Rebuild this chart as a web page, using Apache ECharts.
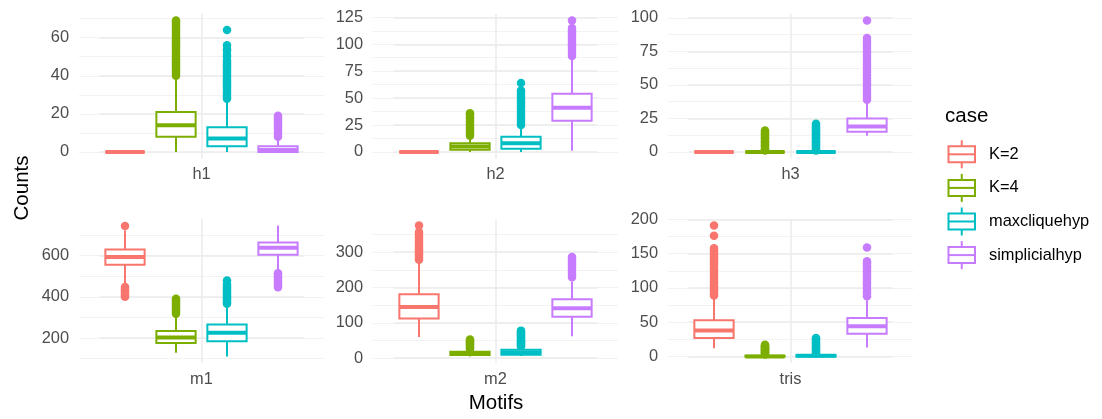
<!DOCTYPE html>
<html>
<head>
<meta charset="utf-8">
<script src="https://cdn.jsdelivr.net/npm/echarts@6/dist/echarts.min.js"></script>
<style>
  html, body { margin: 0; padding: 0; background: #ffffff; }
  #chart { width: 1102px; height: 419px; }
</style>
</head>
<body>
<div id="chart"></div>
<script>
// ---- data ---------------------------------------------------------------
const cases = ['K=2', 'K=4', 'maxcliquehyp', 'simplicialhyp'];
const motifs = ['h1', 'h2', 'h3', 'm1', 'm2', 'tris'];

// per case: [lower whisker, Q1, median, Q3, upper whisker]
const boxesH1 = [[0, 0, 0, 0, 0], [0, 8, 14, 21, 38], [0, 3, 7, 13, 27], [0, 0, 1, 3, 7]];
const boxesH2 = [[0, 0, 0, 0, 0], [0, 2, 5, 8, 14], [0, 3, 8, 14, 24], [1, 29, 41, 54, 88]];
const boxesH3 = [[0, 0, 0, 0, 0], [0, 0, 0, 0, 0], [0, 0, 0, 0, 0], [12, 15, 19, 25, 37]];
const boxesM1 = [[455, 555, 593, 629, 721], [129, 176, 203, 234, 310], [111, 185, 226, 266, 358], [527, 603, 637, 663, 745]];
const boxesM2 = [[60, 112, 145, 181, 269], [5, 9, 13, 18, 25], [6, 10, 16, 24, 32], [62, 117, 141, 167, 217]];
const boxesTris = [[12, 27, 38, 53, 84], [0, 0, 0, 1, 2], [0, 0, 1, 2, 3], [13, 33, 44, 56, 82]];

// outlying counts per case
const outH1 = [
  [],
  [40, 41, 42, 43, 44, 45, 46, 47, 48, 49, 50, 51, 52, 53, 54, 55, 56, 57, 58, 59, 60, 61, 62, 63, 64, 65, 66, 67, 68, 69],
  [28, 29, 30, 31, 32, 33, 34, 35, 36, 37, 38, 39, 40, 41, 42, 43, 44, 45, 46, 47, 48, 50, 51, 53, 54, 56, 64],
  [8, 9, 10, 11, 12, 13, 14, 15, 16, 17, 18, 19]
];
const outH2 = [
  [],
  [15, 17, 19, 21, 23, 25, 27, 29, 31, 33, 35, 36],
  [25, 27, 29, 31, 33, 35, 37, 39, 41, 43, 45, 47, 49, 51, 53, 55, 57, 64],
  [89, 91, 93, 95, 97, 99, 101, 103, 105, 107, 109, 111, 113, 115, 122]
];
const outH3 = [
  [],
  [1, 2, 3, 4, 5, 6, 7, 8, 9, 10, 11, 12, 13, 14, 15, 16],
  [1, 2, 3, 4, 5, 6, 7, 8, 9, 10, 11, 12, 13, 14, 15, 16, 17, 18, 19, 20, 21],
  [39, 41, 43, 45, 47, 49, 51, 53, 55, 57, 59, 61, 63, 65, 67, 69, 71, 73, 75, 77, 79, 81, 83, 85, 98]
];
const outM1 = [
  [400, 408, 416, 424, 432, 440, 447, 743],
  [318, 326, 334, 342, 350, 358, 366, 374, 382, 390],
  [366, 374, 382, 390, 398, 406, 414, 422, 430, 438, 446, 454, 462, 479],
  [446, 454, 462, 470, 478, 486, 494, 502, 510, 514]
];
const outM2 = [
  [278, 284, 290, 296, 302, 308, 314, 320, 326, 332, 338, 344, 350, 356, 375],
  [26, 29, 32, 35, 38, 41, 44, 47, 50, 53],
  [33, 36, 39, 42, 45, 48, 51, 54, 57, 60, 63, 66, 69, 72, 75, 78],
  [229, 235, 241, 247, 253, 259, 265, 271, 277, 283, 286]
];
const outTris = [
  [89, 92, 95, 98, 101, 104, 107, 110, 113, 116, 119, 122, 125, 128, 131, 134, 137, 140, 143, 146, 149, 152, 155, 158, 176, 191],
  [3, 4, 5, 6, 7, 8, 9, 10, 11, 12, 13, 14, 15, 16, 17],
  [4, 6, 8, 10, 12, 14, 16, 18, 20, 22, 24, 26, 27],
  [88, 91, 94, 97, 100, 103, 106, 109, 112, 115, 118, 121, 124, 127, 130, 133, 136, 139, 159]
];

// labelled y-axis break spacing per panel (unlabelled lines fall halfway)
const majorBreaks = [20, 25, 25, 200, 100, 50];

const boxesByMotif = [boxesH1, boxesH2, boxesH3, boxesM1, boxesM2, boxesTris];
const outByMotif = [outH1, outH2, outH3, outM1, outM2, outTris];

// ---- styling / layout ---------------------------------------------------
const caseColors = ['#F8766D', '#7CAE00', '#00BFC4', '#C77CFF'];
const FONT = 'Liberation Sans, Arial, Helvetica, sans-serif';
const SMALL = 16.4;
const TITLE = 20.5;
const panelLefts = [79, 373, 668];
const panelTops = [14, 219];
const panelHeights = [144.5, 144];
const panelWidth = 245;
const dodgeWidth = 204;     // room taken by the four dodged boxes
const boxFrac = 0.77;       // box width as share of one dodge slot
const gridMajor = '#EBEBEB';
const gridMinor = '#F2F2F2';

function isMultiple(v, step) {
  const r = v / step;
  return Math.abs(r - Math.round(r)) < 1e-7;
}

function renderBox(params, api) {
  const i = api.value(0);
  const lo = api.coord([i, api.value(1)]);
  const q1 = api.coord([i, api.value(2)]);
  const md = api.coord([i, api.value(3)]);
  const q3 = api.coord([i, api.value(4)]);
  const hi = api.coord([i, api.value(5)]);
  const w = api.size([1, 0])[0] * boxFrac;
  const x = q1[0];
  const c = caseColors[i];
  return {
    type: 'group',
    children: [
      { type: 'line', shape: { x1: x, y1: lo[1], x2: x, y2: q1[1] }, style: { stroke: c, lineWidth: 2 } },
      { type: 'line', shape: { x1: x, y1: q3[1], x2: x, y2: hi[1] }, style: { stroke: c, lineWidth: 2 } },
      { type: 'rect', shape: { x: x - w / 2, y: q3[1], width: w, height: q1[1] - q3[1] },
        style: { fill: '#ffffff', stroke: c, lineWidth: 2 } },
      { type: 'line', shape: { x1: x - w / 2, y1: md[1], x2: x + w / 2, y2: md[1] },
        style: { stroke: c, lineWidth: 4 } }
    ]
  };
}

const grids = [], xAxes = [], yAxes = [], series = [];

motifs.forEach(function (motif, p) {
  const row = Math.floor(p / 3), col = p % 3;
  const boxes = boxesByMotif[p];
  const outs = outByMotif[p];

  // data range with 5% padding on each side
  let lo = Infinity, hi = -Infinity;
  boxes.forEach(function (b) { lo = Math.min(lo, b[0]); hi = Math.max(hi, b[4]); });
  outs.forEach(function (o) { o.forEach(function (v) { lo = Math.min(lo, v); hi = Math.max(hi, v); }); });
  const pad = (hi - lo) * 0.05;
  const yMin = lo - pad, yMax = hi + pad;
  const major = majorBreaks[p];
  const minor = major / 2;

  const top = panelTops[row], height = panelHeights[row], left = panelLefts[col];

  // panel frame: minor gridlines, tick labels, motif label
  grids.push({ left: left, top: top, width: panelWidth, height: height, containLabel: false });
  // dodged boxes for the four cases, plus the major gridlines
  grids.push({ left: left + (panelWidth - dodgeWidth) / 2, top: top, width: dodgeWidth, height: height, containLabel: false });
  const gFrame = grids.length - 2, gBox = grids.length - 1;

  xAxes.push({
    gridIndex: gFrame, type: 'value', min: -1, max: 1, interval: 1,
    axisLine: { show: false }, axisTick: { show: false },
    splitLine: { show: true, showMinLine: false, showMaxLine: false, lineStyle: { color: gridMajor, width: 1.5 } },
    axisLabel: {
      margin: 8, color: '#4D4D4D', fontSize: SMALL, fontFamily: FONT,
      showMinLabel: false, showMaxLabel: false,
      formatter: function (v) { return v === 0 ? motif : ''; }
    }
  });
  yAxes.push({
    gridIndex: gFrame, type: 'value', min: yMin, max: yMax,
    minInterval: minor, maxInterval: minor, splitNumber: 8,
    axisLine: { show: false }, axisTick: { show: false },
    splitLine: { show: true, showMinLine: false, showMaxLine: false, lineStyle: { color: gridMinor, width: 1.2 } },
    axisLabel: {
      margin: 10, color: '#4D4D4D', fontSize: SMALL, fontFamily: FONT,
      showMinLabel: false, showMaxLabel: false,
      formatter: function (v) { return isMultiple(v, major) ? String(Math.round(v)) : ''; }
    }
  });
  xAxes.push({ gridIndex: gBox, type: 'category', data: cases, show: false, boundaryGap: true });
  yAxes.push({
    gridIndex: gBox, type: 'value', min: yMin, max: yMax,
    minInterval: major, maxInterval: major, splitNumber: 4,
    axisLine: { show: false }, axisTick: { show: false }, axisLabel: { show: false },
    splitLine: { show: true, showMinLine: false, showMaxLine: false, lineStyle: { color: gridMajor, width: 1.5 } }
  });
  const axBox = xAxes.length - 1;

  const pts = [];
  outs.forEach(function (o, i) { o.forEach(function (v) { pts.push([i, v]); }); });
  series.push({
    type: 'scatter', xAxisIndex: axBox, yAxisIndex: axBox, z: 2,
    symbol: 'circle', symbolSize: 8.5, data: pts,
    itemStyle: { color: function (d) { return caseColors[d.data[0]]; }, opacity: 1 },
    silent: true
  });
  series.push({
    type: 'custom', xAxisIndex: axBox, yAxisIndex: axBox, z: 3,
    renderItem: renderBox,
    encode: { x: 0, y: [1, 2, 3, 4, 5] },
    data: boxes.map(function (b, i) { return [i].concat(b); }),
    silent: true
  });
});

// legend keys drawn as small boxplot glyphs
const legendItems = [{
  type: 'text', left: 945, top: 106,
  style: { text: 'case', fontSize: TITLE, fontFamily: FONT, fill: '#000000' }
}];
cases.forEach(function (name, i) {
  const cy = 154.3 + i * 33.6;
  const c = caseColors[i];
  const x0 = 948.5, w = 26.5;
  legendItems.push({
    type: 'group',
    children: [
      { type: 'line', shape: { x1: x0 + w / 2, y1: cy - 14, x2: x0 + w / 2, y2: cy + 14 }, style: { stroke: c, lineWidth: 2 } },
      { type: 'rect', shape: { x: x0, y: cy - 8, width: w, height: 16 }, style: { fill: '#ffffff', stroke: c, lineWidth: 2 } },
      { type: 'line', shape: { x1: x0, y1: cy, x2: x0 + w, y2: cy }, style: { stroke: c, lineWidth: 2 } }
    ]
  });
  legendItems.push({
    type: 'text', x: 989, y: cy,
    style: { text: name, fontSize: SMALL, fontFamily: FONT, fill: '#000000', align: 'left', verticalAlign: 'middle' }
  });
});

const chart = echarts.init(document.getElementById('chart'), null, { renderer: 'canvas' });
chart.setOption({
  animation: false,
  backgroundColor: '#ffffff',
  grid: grids,
  xAxis: xAxes,
  yAxis: yAxes,
  series: series,
  graphic: legendItems.concat([
    {
      type: 'text', x: 22.5, y: 188, rotation: Math.PI / 2,
      style: { text: 'Counts', fontSize: TITLE, fontFamily: FONT, fill: '#000000', align: 'center', verticalAlign: 'middle' }
    },
    {
      type: 'text', x: 496, y: 403.5,
      style: { text: 'Motifs', fontSize: TITLE, fontFamily: FONT, fill: '#000000', align: 'center', verticalAlign: 'middle' }
    }
  ])
});
</script>
</body>
</html>
